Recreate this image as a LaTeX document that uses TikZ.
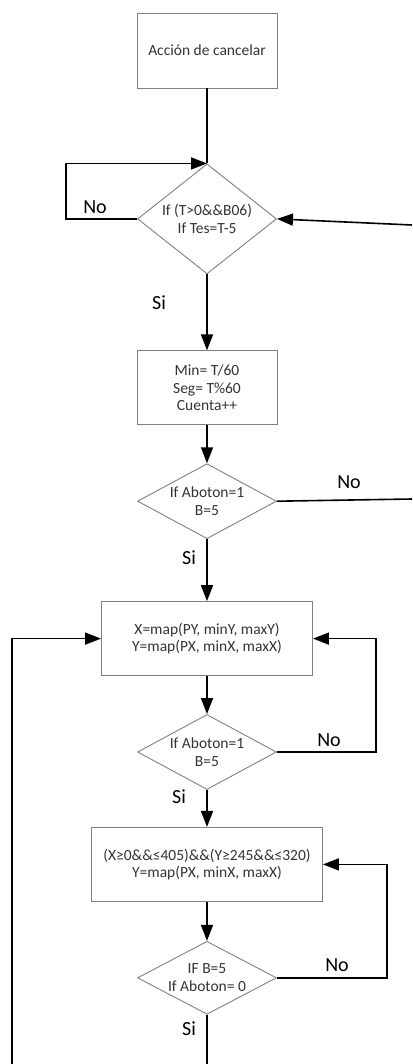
\documentclass[tikz,border=0pt]{standalone}
\usepackage{fontspec}
\setmainfont{Carlito}
\usetikzlibrary{arrows.meta,positioning,shapes.geometric}
\tikzset{
  font=\fontsize{15.5}{17.5}\selectfont,
  box/.style={
    draw=black!50,
    line width=0.9pt,
    text=black!80,
    align=center,
    minimum width=140pt,
    minimum height=74pt,
    inner sep=4pt
  },
  decision/.style={
    diamond,
    draw=black!50,
    line width=0.9pt,
    text=black!80,
    align=center,
    aspect=1.85,
    inner sep=0pt,
    minimum width=139pt,
    minimum height=75pt
  },
  answer/.style={
    font=\fontsize{20}{22}\selectfont,
    inner sep=0pt
  },
  conn/.style={line width=1.6pt},
  arrow/.style={conn, -{Triangle[length=16pt,width=12pt]}}
}

\begin{document}
\begin{tikzpicture}[x=1pt,y=1pt]
\useasboundingbox (0,0) rectangle (412,-1064);

\node[box, minimum height=75pt] (start) at (207,-50.5) {Acción de cancelar};
\node[decision, aspect=1.26, minimum height=110pt, below=75pt of start] (check) {If (T>0\&\&B06)\\If Tes=T-5};
\node[box, below=76pt of check] (calc) {Min= T/60\\Seg= T\%60\\Cuenta++};
\node[decision, below=38pt of calc] (boton) {If Aboton=1\\B=5};
\node[box, minimum width=211pt, below=62pt of boton] (map) {X=map(PY, minY, maxY)\\Y=map(PX, minX, maxX)};
\node[decision, below=38pt of map] (boton2) {If Aboton=1\\B=5};
\node[box, minimum width=231pt, below=37pt of boton2] (rango) {(X≥0\&\&≤405)\&\&(Y≥245\&\&≤320)\\Y=map(PX, minX, maxX)};
\node[decision, minimum height=73pt, below=39pt of rango] (fin) {IF B=5\\If Aboton= 0};

% loose ends at the page border
\coordinate (retorno) at (412,-225);
\coordinate (salida) at (412,-499);
\coordinate (abajo) at (207,-1064);
\coordinate (izq) at (12,-1064);

% main flow
\draw[conn] (start) -- (check);
\draw[arrow] (check) -- (calc);
\draw[arrow] (calc) -- (boton);
\draw[arrow] (boton) -- (map);
\draw[arrow] (map) -- (boton2);
\draw[arrow] (boton2) -- (rango);
\draw[arrow] (rango) -- (fin);
\draw[conn] (fin) -- (abajo);

% loops back
\draw[arrow] (check.west) -- ++(-71,0) |- (check.north);
\draw[arrow] (retorno) -- (check.east);
\draw[conn] (boton.east) -- (salida);
\draw[arrow] (boton2.east) -- ++(99,0) |- (map.east);
\draw[arrow] (fin.east) -- ++(110,0) |- (rango.east);
\draw[arrow] (izq) |- (map.west);

% branch answers
\node[answer] (no1) at (95,-207) {No};
\node[answer] (si1) at (159,-303) {Si};
\node[answer] (no2) at (349,-482) {No};
\node[answer] (si2) at (189,-558) {Si};
\node[answer] (no3) at (329,-740) {No};
\node[answer] (si3) at (179,-797) {Si};
\node[answer] (no4) at (337,-965) {No};
\node[answer] (si4) at (189,-1029) {Si};

\end{tikzpicture}
\end{document}
